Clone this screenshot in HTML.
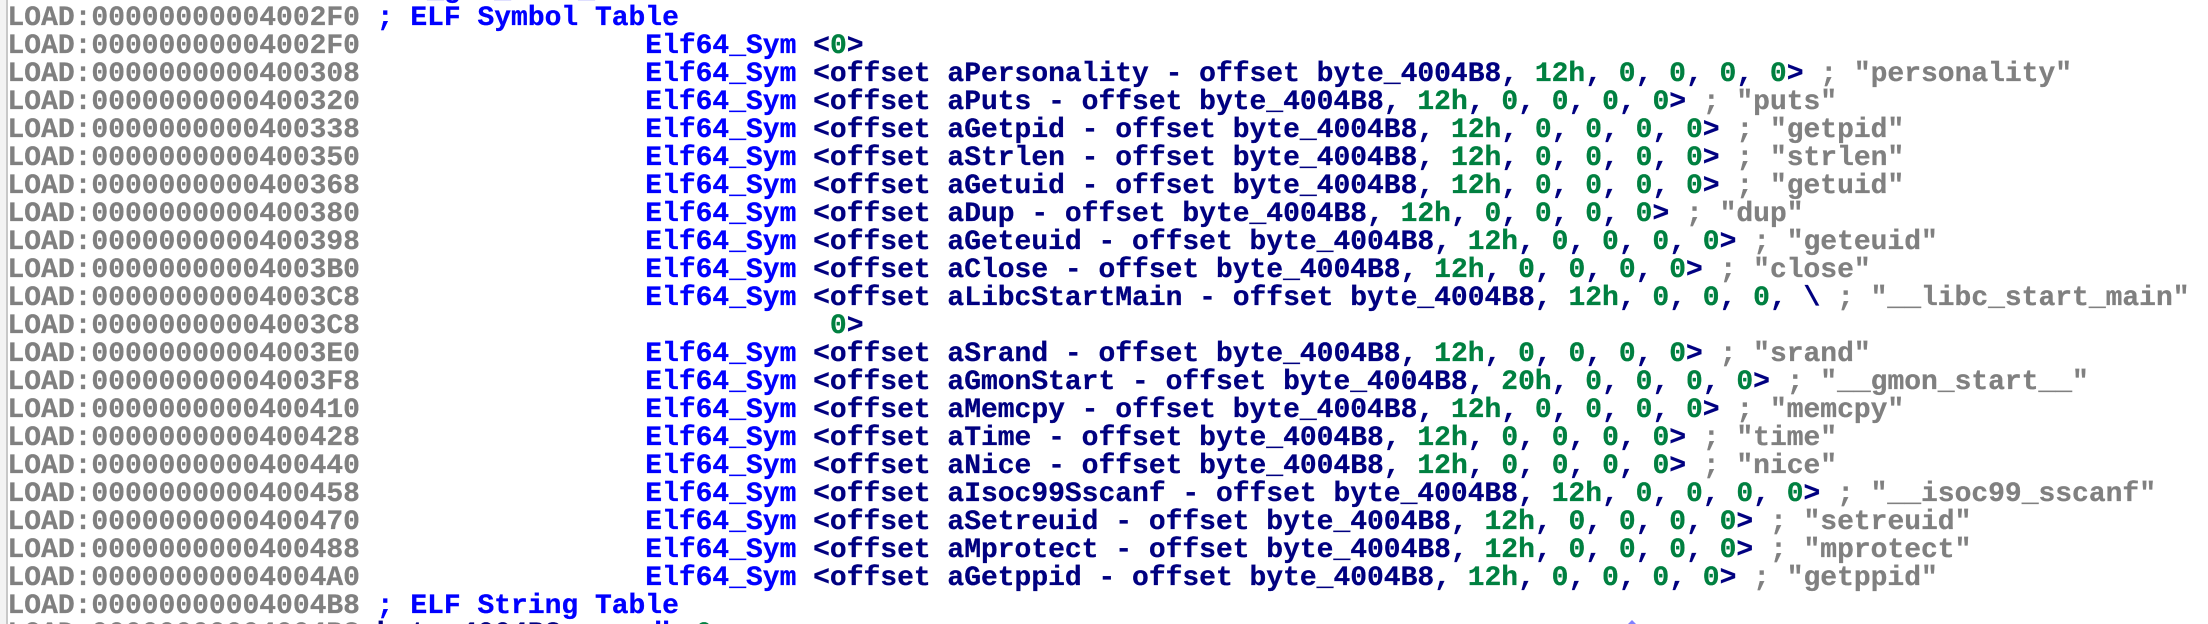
<!DOCTYPE html>
<html><head><meta charset="utf-8">
<style>
html,body{margin:0;padding:0;width:2208px;height:624px;overflow:hidden;background:#fff}
#w{position:absolute;left:0;top:0;width:2208px;height:624px;overflow:hidden;background:#fff}
#l{position:absolute;left:0;top:0;width:6px;height:624px;background:#f3f3f3;border-right:2px solid #c8c8c8}
pre{position:absolute;left:7.5px;top:-23px;margin:0;font:bold 27.97px/28px "Liberation Mono",monospace;color:#000080;white-space:pre;-webkit-text-stroke:.3px currentColor}
i{font-style:normal;color:#808080}
b{font-weight:bold;color:#0000ff}
u{text-decoration:none;color:#008040}
svg{position:absolute;left:1626px;top:620px}
</style></head><body>
<div id="w">
<div id="l"></div>
<pre><b>                         _g  _    _</b>
<i>LOAD:00000000004002F0</i> <b>; ELF Symbol Table</b>
<i>LOAD:00000000004002F0</i>                 <b>Elf64_Sym</b> &lt;<u>0</u>&gt;
<i>LOAD:0000000000400308</i>                 <b>Elf64_Sym</b> &lt;offset aPersonality - offset byte_4004B8, <u>12h</u>, <u>0</u>, <u>0</u>, <u>0</u>, <u>0</u>&gt; <i>; "personality"</i>
<i>LOAD:0000000000400320</i>                 <b>Elf64_Sym</b> &lt;offset aPuts - offset byte_4004B8, <u>12h</u>, <u>0</u>, <u>0</u>, <u>0</u>, <u>0</u>&gt; <i>; "puts"</i>
<i>LOAD:0000000000400338</i>                 <b>Elf64_Sym</b> &lt;offset aGetpid - offset byte_4004B8, <u>12h</u>, <u>0</u>, <u>0</u>, <u>0</u>, <u>0</u>&gt; <i>; "getpid"</i>
<i>LOAD:0000000000400350</i>                 <b>Elf64_Sym</b> &lt;offset aStrlen - offset byte_4004B8, <u>12h</u>, <u>0</u>, <u>0</u>, <u>0</u>, <u>0</u>&gt; <i>; "strlen"</i>
<i>LOAD:0000000000400368</i>                 <b>Elf64_Sym</b> &lt;offset aGetuid - offset byte_4004B8, <u>12h</u>, <u>0</u>, <u>0</u>, <u>0</u>, <u>0</u>&gt; <i>; "getuid"</i>
<i>LOAD:0000000000400380</i>                 <b>Elf64_Sym</b> &lt;offset aDup - offset byte_4004B8, <u>12h</u>, <u>0</u>, <u>0</u>, <u>0</u>, <u>0</u>&gt; <i>; "dup"</i>
<i>LOAD:0000000000400398</i>                 <b>Elf64_Sym</b> &lt;offset aGeteuid - offset byte_4004B8, <u>12h</u>, <u>0</u>, <u>0</u>, <u>0</u>, <u>0</u>&gt; <i>; "geteuid"</i>
<i>LOAD:00000000004003B0</i>                 <b>Elf64_Sym</b> &lt;offset aClose - offset byte_4004B8, <u>12h</u>, <u>0</u>, <u>0</u>, <u>0</u>, <u>0</u>&gt; <i>; "close"</i>
<i>LOAD:00000000004003C8</i>                 <b>Elf64_Sym</b> &lt;offset aLibcStartMain - offset byte_4004B8, <u>12h</u>, <u>0</u>, <u>0</u>, <u>0</u>, \ <i>; "__libc_start_main"</i>
<i>LOAD:00000000004003C8</i>                            <u>0</u>&gt;
<i>LOAD:00000000004003E0</i>                 <b>Elf64_Sym</b> &lt;offset aSrand - offset byte_4004B8, <u>12h</u>, <u>0</u>, <u>0</u>, <u>0</u>, <u>0</u>&gt; <i>; "srand"</i>
<i>LOAD:00000000004003F8</i>                 <b>Elf64_Sym</b> &lt;offset aGmonStart - offset byte_4004B8, <u>20h</u>, <u>0</u>, <u>0</u>, <u>0</u>, <u>0</u>&gt; <i>; "__gmon_start__"</i>
<i>LOAD:0000000000400410</i>                 <b>Elf64_Sym</b> &lt;offset aMemcpy - offset byte_4004B8, <u>12h</u>, <u>0</u>, <u>0</u>, <u>0</u>, <u>0</u>&gt; <i>; "memcpy"</i>
<i>LOAD:0000000000400428</i>                 <b>Elf64_Sym</b> &lt;offset aTime - offset byte_4004B8, <u>12h</u>, <u>0</u>, <u>0</u>, <u>0</u>, <u>0</u>&gt; <i>; "time"</i>
<i>LOAD:0000000000400440</i>                 <b>Elf64_Sym</b> &lt;offset aNice - offset byte_4004B8, <u>12h</u>, <u>0</u>, <u>0</u>, <u>0</u>, <u>0</u>&gt; <i>; "nice"</i>
<i>LOAD:0000000000400458</i>                 <b>Elf64_Sym</b> &lt;offset aIsoc99Sscanf - offset byte_4004B8, <u>12h</u>, <u>0</u>, <u>0</u>, <u>0</u>, <u>0</u>&gt; <i>; "__isoc99_sscanf"</i>
<i>LOAD:0000000000400470</i>                 <b>Elf64_Sym</b> &lt;offset aSetreuid - offset byte_4004B8, <u>12h</u>, <u>0</u>, <u>0</u>, <u>0</u>, <u>0</u>&gt; <i>; "setreuid"</i>
<i>LOAD:0000000000400488</i>                 <b>Elf64_Sym</b> &lt;offset aMprotect - offset byte_4004B8, <u>12h</u>, <u>0</u>, <u>0</u>, <u>0</u>, <u>0</u>&gt; <i>; "mprotect"</i>
<i>LOAD:00000000004004A0</i>                 <b>Elf64_Sym</b> &lt;offset aGetppid - offset byte_4004B8, <u>12h</u>, <u>0</u>, <u>0</u>, <u>0</u>, <u>0</u>&gt; <i>; "getppid"</i>
<i>LOAD:00000000004004B8</i> <b>; ELF String Table</b>
<i>LOAD:00000000004004B8</i> byte_4004B8     <b>db</b> <u>0</u></pre>
<svg width="12" height="4"><polygon points="6,0 10,4 2,4" fill="#8080ff"/></svg>
</div>
</body></html>
